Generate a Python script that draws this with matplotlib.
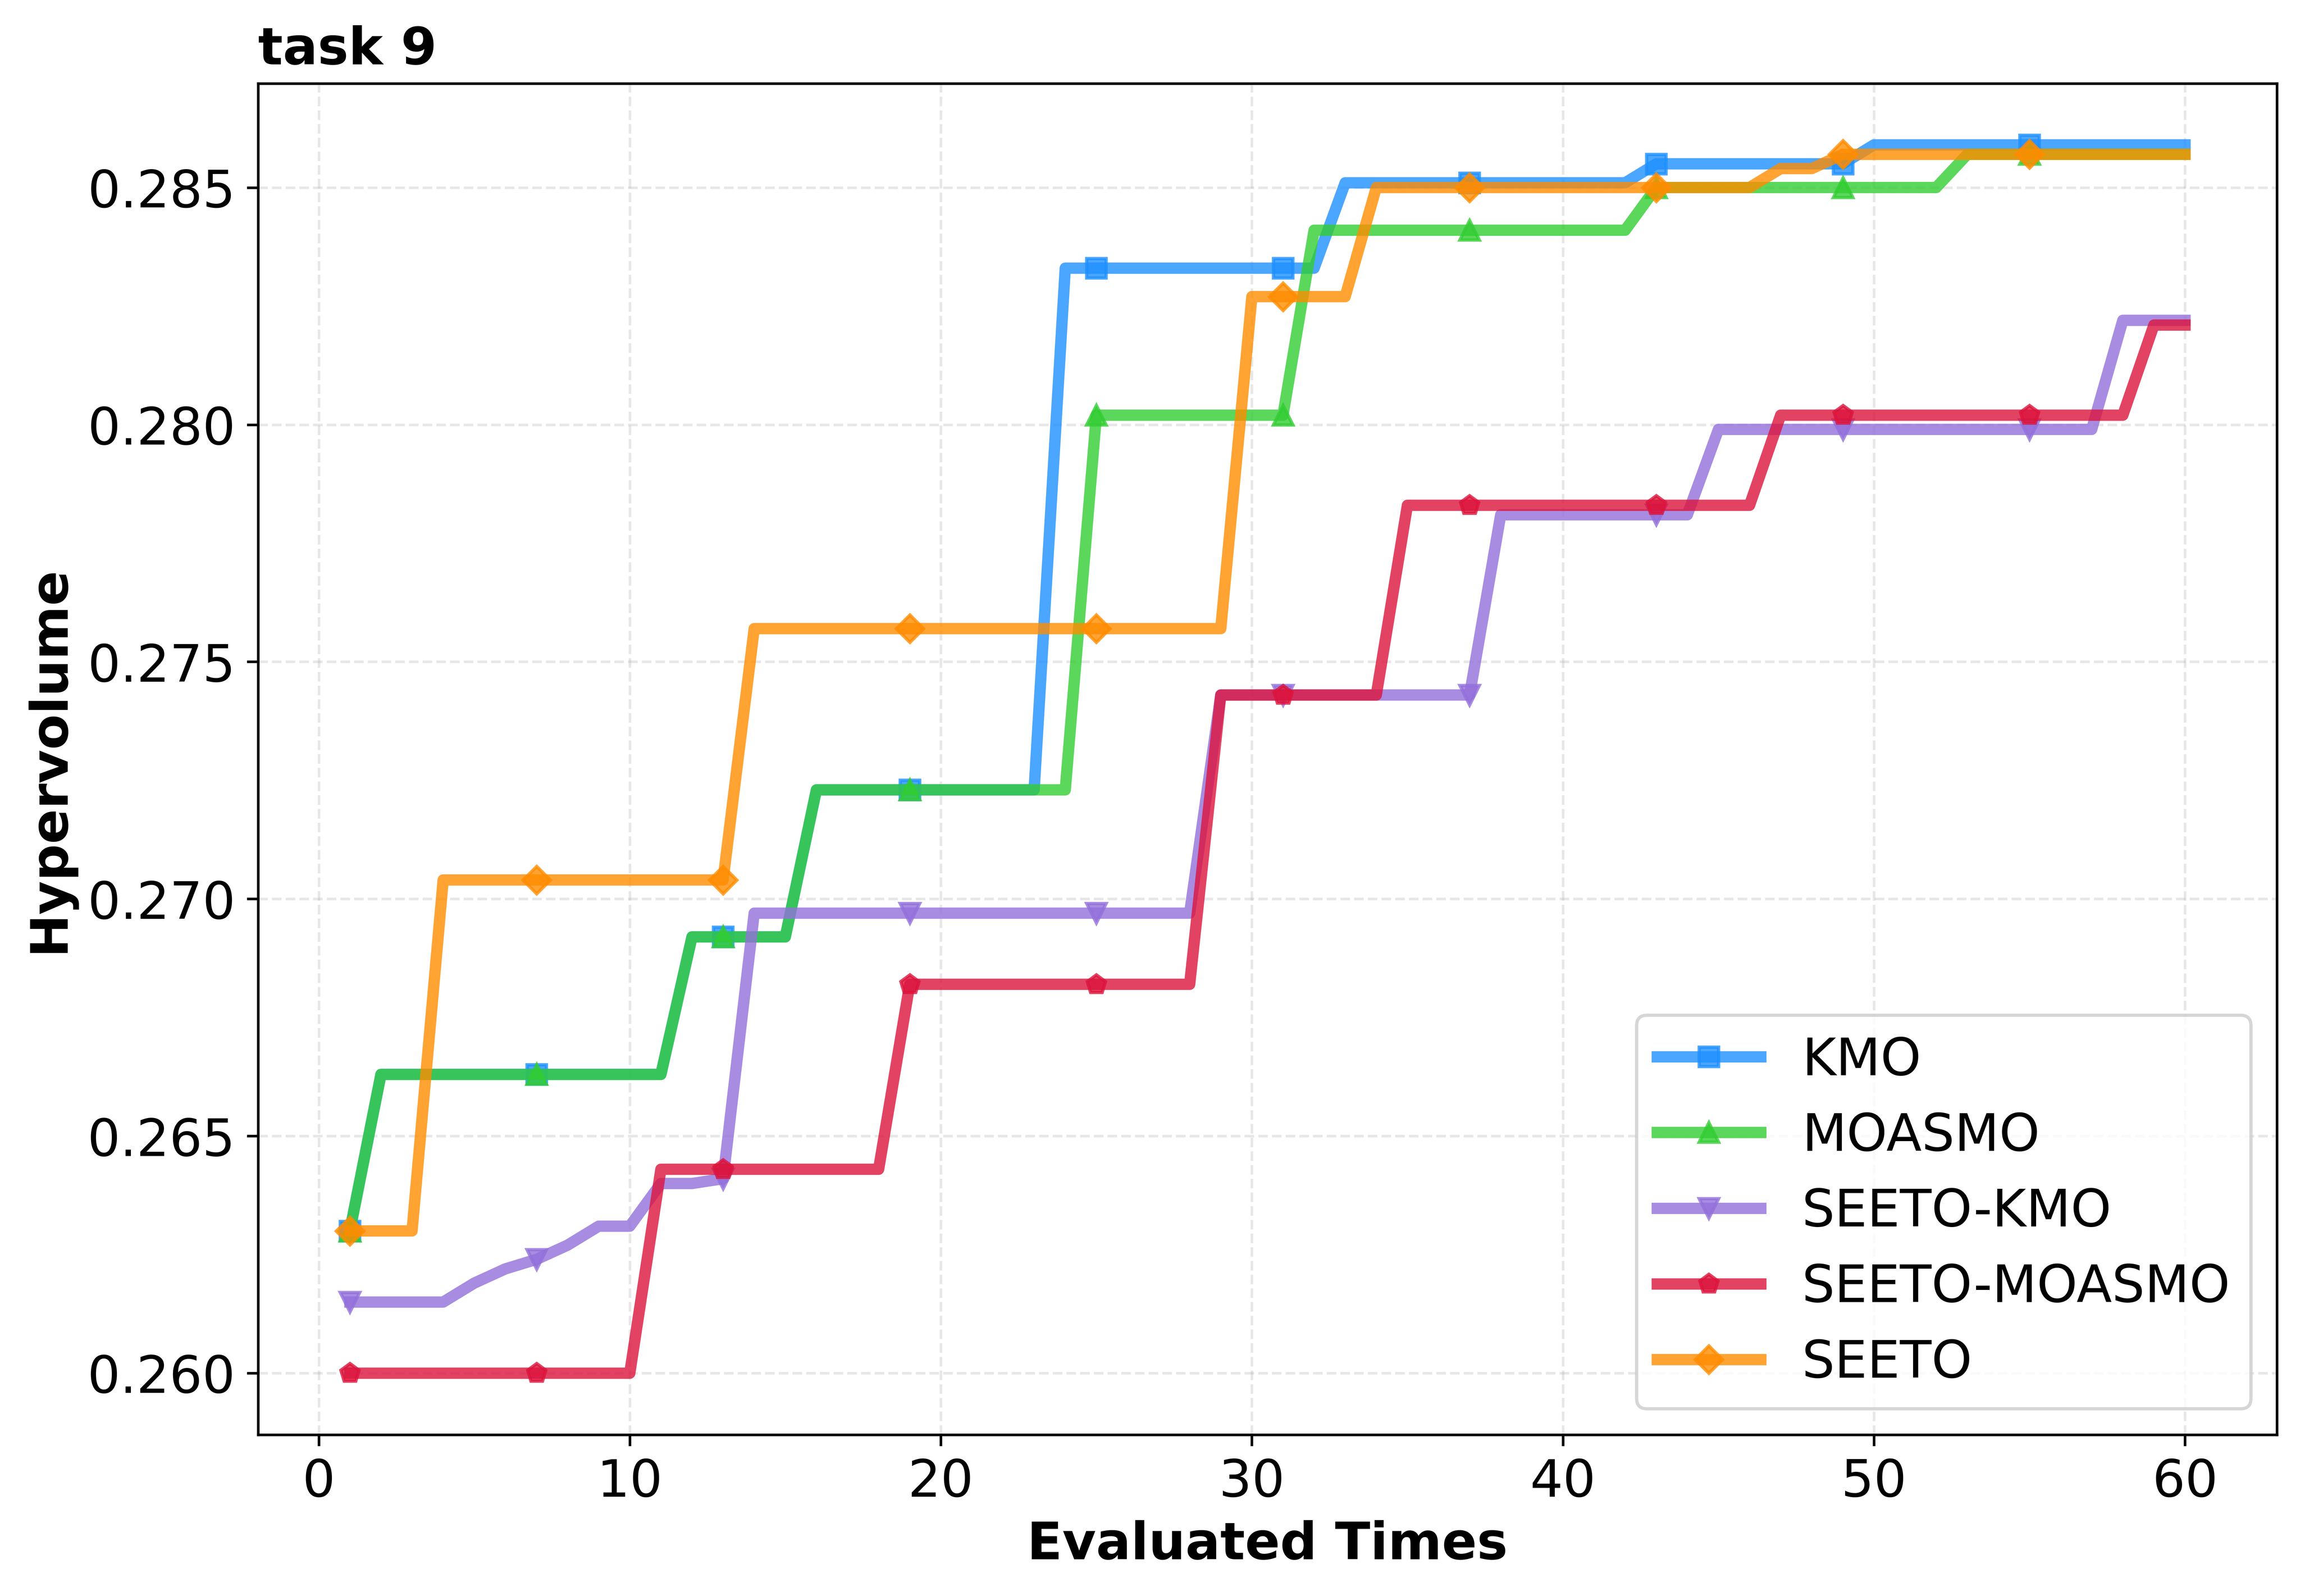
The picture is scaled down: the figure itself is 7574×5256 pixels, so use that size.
import numpy as np
import matplotlib
matplotlib.use('Agg')
import matplotlib.pyplot as plt

plt.rcParams['font.size'] = 16

x = np.arange(1, 61)

kmo = [0.2630] + [0.2663] * 10 + [0.2692] * 4 + [0.2723] * 8 + [0.2833] * 9 \
    + [0.2851] * 10 + [0.2855] * 7 + [0.2859] * 11
moasmo = [0.2630] + [0.2663] * 10 + [0.2692] * 4 + [0.2723] * 9 + [0.2802] * 7 \
    + [0.2841] * 11 + [0.2850] * 10 + [0.2857] * 8
seeto_kmo = [0.2615] * 4 + [0.2619, 0.2622, 0.2624, 0.2627, 0.2631, 0.2631,
                            0.2640, 0.2640, 0.2641] \
    + [0.2697] * 15 + [0.2743] * 9 + [0.2781] * 7 + [0.2799] * 13 + [0.2822] * 3
seeto_moasmo = [0.2600] * 10 + [0.2643] * 8 + [0.2682] * 10 + [0.2743] * 6 \
    + [0.2783] * 12 + [0.2802] * 12 + [0.2821] * 2
seeto = [0.2630] * 3 + [0.2704] * 10 + [0.2757] * 16 + [0.2827] * 4 \
    + [0.2850] * 13 + [0.2854] * 2 + [0.2857] * 12

names = ['KMO', 'MOASMO', 'SEETO-KMO', 'SEETO-MOASMO', 'SEETO']
series = [kmo, moasmo, seeto_kmo, seeto_moasmo, seeto]
colors = ['dodgerblue', 'limegreen', 'mediumpurple', 'crimson', 'darkorange']
markers = ['s', '^', 'v', 'p', 'D']

fig = plt.figure(figsize=(7911 / 800, 5490 / 800))
ax = fig.add_axes([0.1122, 0.1011, 0.8776, 0.8465])

for y, name, c, m in zip(series, names, colors, markers):
    ax.plot(x, y, color=c, marker=m, markevery=6, linewidth=3.5,
            markersize=6, alpha=0.8, label=name)

ax.grid(True, linestyle='--', alpha=0.3)
ax.set_xlabel('Evaluated Times', fontweight='bold')
ax.set_ylabel('Hypervolume', fontweight='bold')
ax.set_title('task 9', loc='left', fontsize=16, fontweight='bold')
ax.legend(loc='lower right')

# full 800 dpi is over the 40 Mpx limit of the viewer, so a bit less
fig.savefig('out.png', dpi=766)
